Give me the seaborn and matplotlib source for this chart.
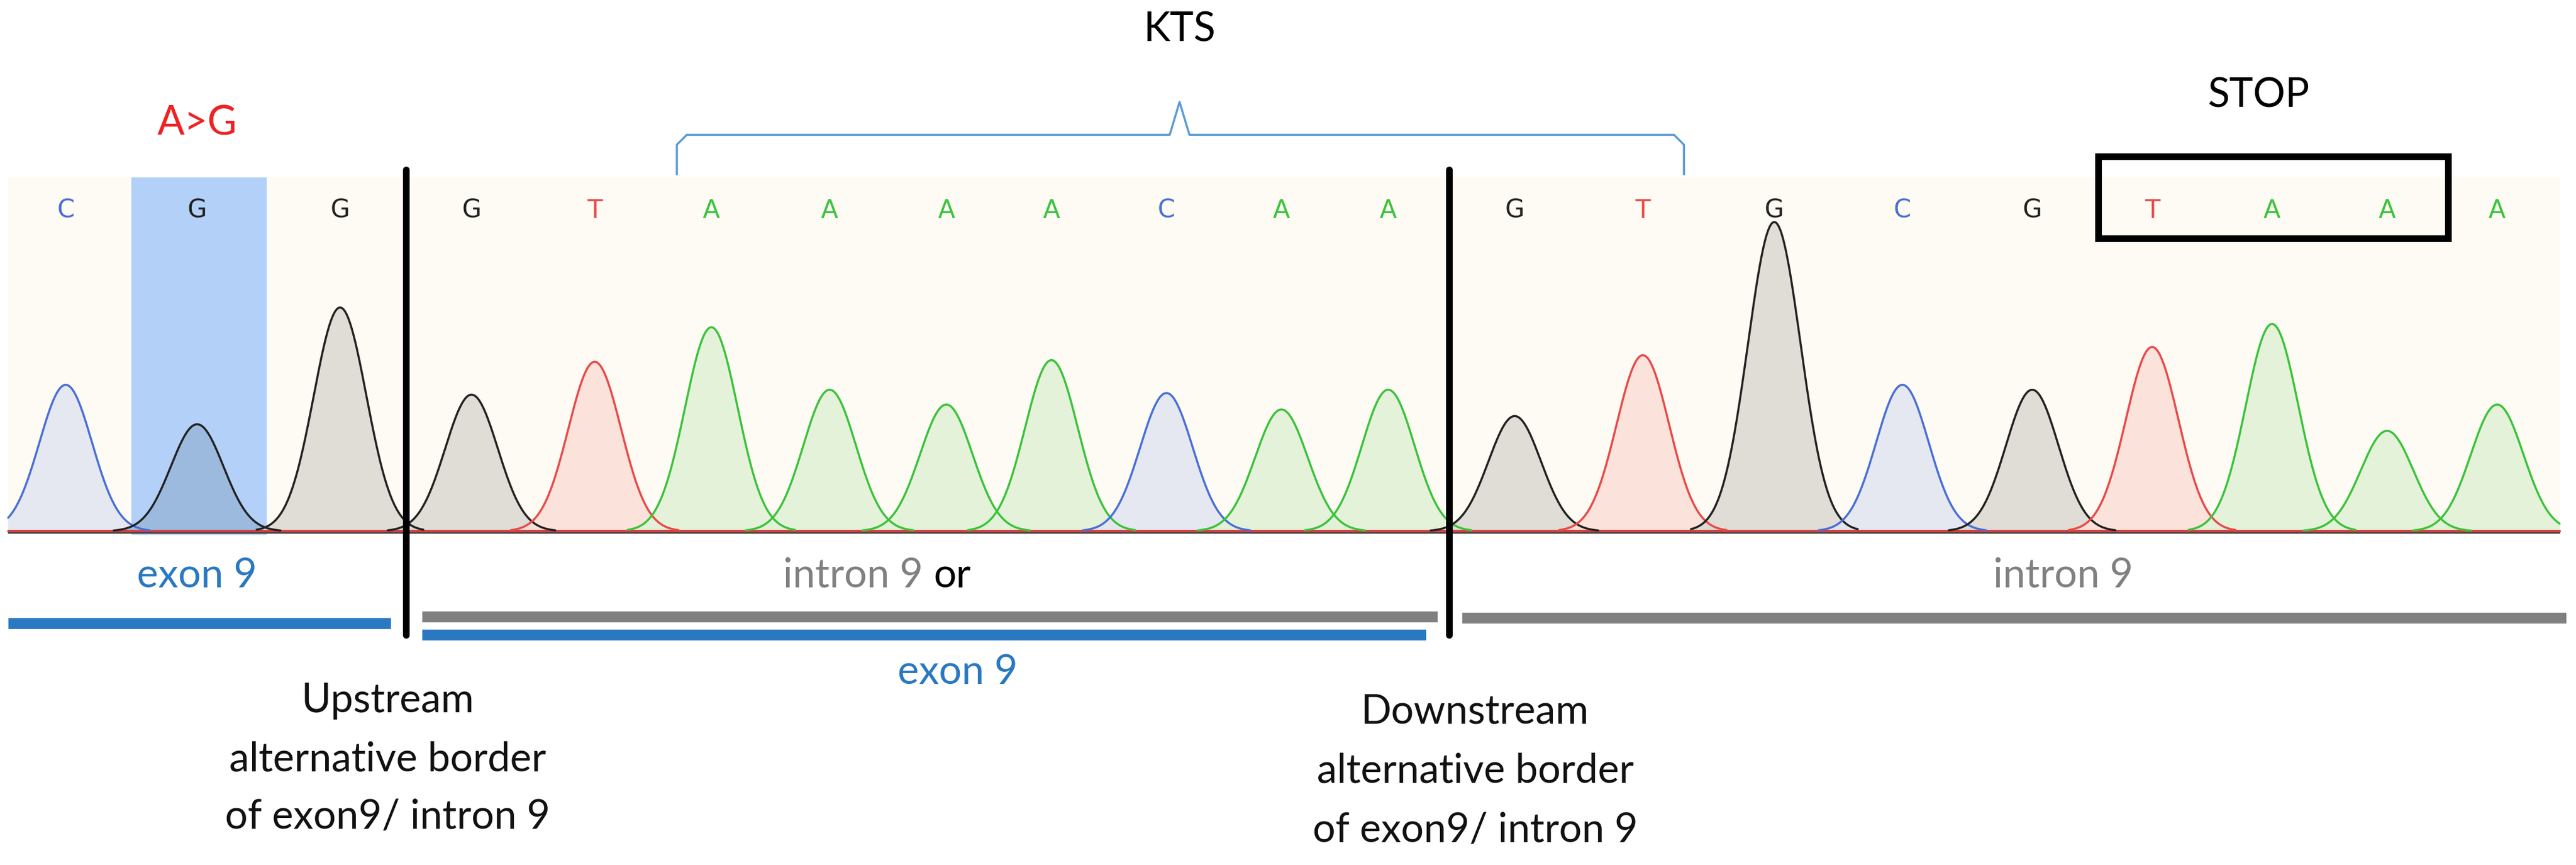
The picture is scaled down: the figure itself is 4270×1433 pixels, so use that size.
import numpy as np
import pandas as pd
import matplotlib
matplotlib.use("Agg")
import matplotlib.pyplot as plt
import seaborn as sns

# Data (reference display units, width ~1568)
bases = list("CGGGTAAAACAAGTGCGTAAA")
peak_x = [40,120,207,287,362,433,505,576,640,710,780,845,922,1000,1080,1158,1237,1310,1383,1453,1520]
peak_y = [234,258,187,240,220,199,237,246,219,239,249,237,253,216,135,234,237,211,197,262,246]
baseline = 323

sns.set_theme(style="white")
plt.rcParams['font.family'] = ['Lato', 'DejaVu Sans']

line_col = {'C': '#4a6fd6', 'G': '#222222', 'T': '#e84a4a', 'A': '#3cc23c'}
fill_col = {'C': '#e3e6f0', 'G': '#dcdad3', 'T': '#fbe0d8', 'A': '#e2f2d8'}

fig = plt.figure(figsize=(42.7, 14.33), dpi=100)
ax = fig.add_axes([0, 0, 1, 1])
ax.set_xlim(0, 1568)
ax.set_ylim(526, 0)
ax.axis('off')

ax.add_patch(plt.Rectangle((5, 108), 1553, 217, color='#fdfbf3', zorder=0))
ax.add_patch(plt.Rectangle((80, 108), 82, 217, color='#b3d1f8', zorder=0.5))

sig = 16.0
xs = np.linspace(5, 1558, 3000)
rows = []
for i, (b, px, py) in enumerate(zip(bases, peak_x, peak_y)):
    h = baseline - py
    m = np.abs(xs - px) < 3.2 * sig
    xx = xs[m]
    yy = baseline - h * np.exp(-0.5 * ((xx - px) / sig) ** 2)
    fc = '#9ab8dc' if i == 1 else fill_col[b]
    ax.fill_between(xx, yy, baseline, color=fc, alpha=0.9, zorder=1)
    rows.append(pd.DataFrame({'x': xx, 'y': yy, 'peak': i}))
    ax.text(px, 128, b, color=line_col[b], ha='center', va='center', fontsize=30,
            family='DejaVu Sans', zorder=3)
df = pd.concat(rows)
pal = {i: line_col[b] for i, b in enumerate(bases)}
sns.lineplot(data=df, x='x', y='y', hue='peak', palette=pal, units='peak',
             estimator=None, sort=False, legend=False, lw=2.5, ax=ax, zorder=2)
ax.plot([5, 1558], [baseline, baseline], color='#d04040', lw=3, zorder=1.5)
ax.plot([5, 1558], [baseline + 1, baseline + 1], color='#333333', lw=1.5, zorder=1.5)

for bx in [247, 882]:
    ax.plot([bx, bx], [103, 386], color='black', lw=8, zorder=4)

blue = '#2a78c2'
gray = '#808080'
ax.plot([5, 238], [379, 379], color=blue, lw=13, solid_capstyle='butt')
ax.plot([257, 875], [375, 375], color=gray, lw=13, solid_capstyle='butt')
ax.plot([257, 868], [386, 386], color=blue, lw=13, solid_capstyle='butt')
ax.plot([890, 1562], [376, 376], color=gray, lw=13, solid_capstyle='butt')

fs = 48
ax.text(120, 350, 'exon 9', color=blue, ha='center', va='center', fontsize=fs)
ax.text(568, 350, 'intron 9 ', color=gray, ha='right', va='center', fontsize=fs)
ax.text(568, 350, 'or', color='black', ha='left', va='center', fontsize=fs)
ax.text(583, 409, 'exon 9', color=blue, ha='center', va='center', fontsize=fs)
ax.text(1256, 350, 'intron 9', color=gray, ha='center', va='center', fontsize=fs)
ax.text(120, 75, 'A>G', color='#ee2222', ha='center', va='center', fontsize=fs)
ax.text(718, 18, 'KTS', color='black', ha='center', va='center', fontsize=fs)
ax.text(1375, 58, 'STOP', color='black', ha='center', va='center', fontsize=fs)

for y, t in zip([426, 462, 497], ['Upstream', 'alternative border', 'of exon9/ intron 9']):
    ax.text(236, y, t, ha='center', va='center', fontsize=fs, color='#111111')
for y, t in zip([433, 469, 505], ['Downstream', 'alternative border', 'of exon9/ intron 9']):
    ax.text(898, y, t, ha='center', va='center', fontsize=fs, color='#111111')

bc = '#5b9bd5'
ax.plot([412, 412, 418, 712, 718, 724, 1019, 1025, 1025],
        [106, 88, 82, 82, 62, 82, 82, 88, 106], color=bc, lw=2.5)

ax.add_patch(plt.Rectangle((1277, 95), 213, 50, fill=False, ec='black', lw=8, zorder=4))

fig.savefig('out.png', dpi=100)
